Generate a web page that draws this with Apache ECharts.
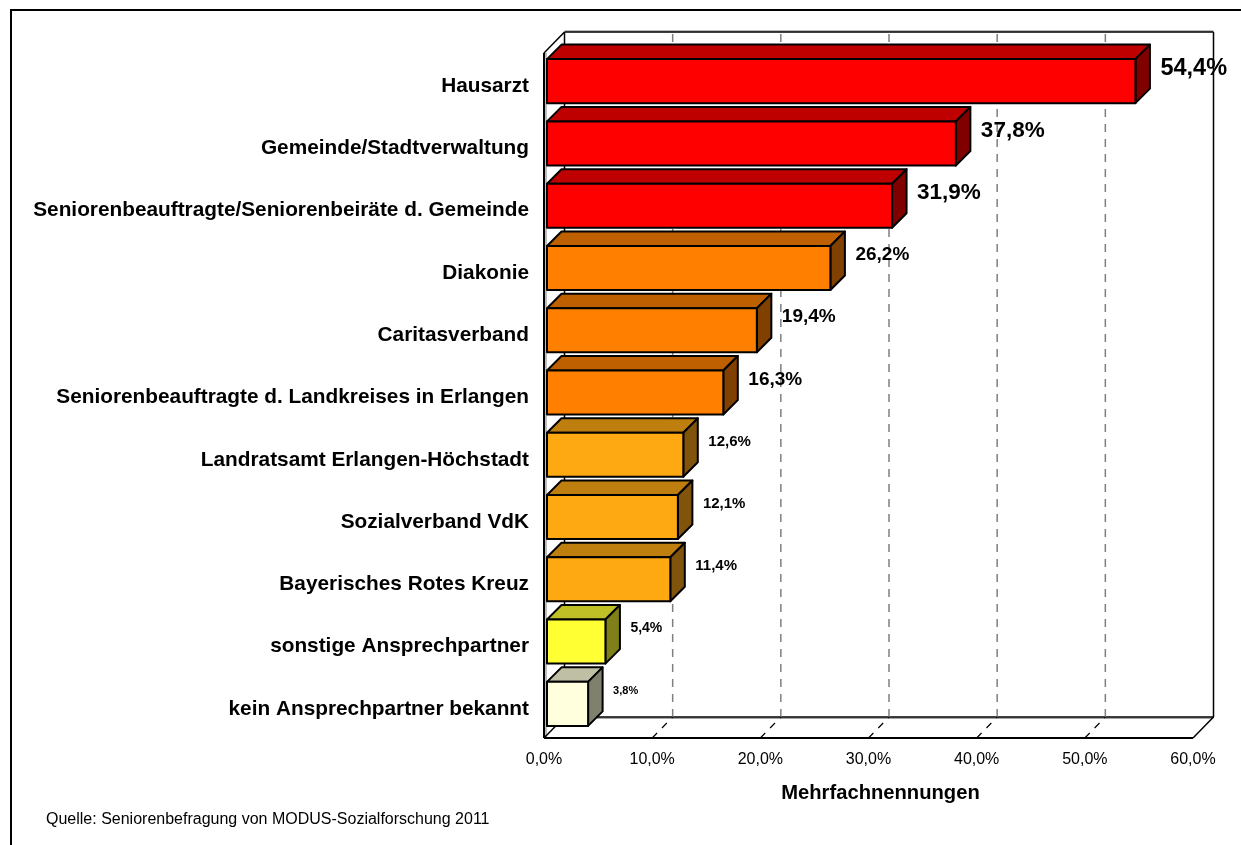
<!DOCTYPE html>
<html>
<head>
<meta charset="utf-8">
<title>Ansprechpartner</title>
<script src="https://cdn.jsdelivr.net/npm/echarts@6/dist/echarts.min.js"></script>
<style>
  html, body { margin: 0; padding: 0; background: #fff; }
  #chart { width: 1241px; height: 845px; }
</style>
</head>
<body>
<div id="chart"></div>
<script>
var categories = [
  'Hausarzt',
  'Gemeinde/Stadtverwaltung',
  'Seniorenbeauftragte/Seniorenbeiräte d. Gemeinde',
  'Diakonie',
  'Caritasverband',
  'Seniorenbeauftragte d. Landkreises in Erlangen',
  'Landratsamt Erlangen-Höchstadt',
  'Sozialverband VdK',
  'Bayerisches Rotes Kreuz',
  'sonstige Ansprechpartner',
  'kein Ansprechpartner bekannt'
]
var values = [54.4, 37.8, 31.9, 26.2, 19.4, 16.3, 12.6, 12.1, 11.4, 5.4, 3.8]
var gridTicks = [10, 20, 30, 40, 50]

// styling per bar
var frontColors = ['#ff0000', '#ff0000', '#ff0000', '#ff8000', '#ff8000', '#ff8000', '#ffa912', '#ffa912', '#ffa912', '#ffff33', '#ffffdd']
var topColors = ['#bf0000', '#bf0000', '#bf0000', '#bf6000', '#bf6000', '#bf6000', '#bf7f0e', '#bf7f0e', '#bf7f0e', '#bfbf26', '#bfbfa6']
var sideColors = ['#800000', '#800000', '#800000', '#804000', '#804000', '#804000', '#80540a', '#80540a', '#80540a', '#80801a', '#80806f']
var labelSizes = [23.5, 22.5, 22.5, 19, 19, 19, 15, 15, 15, 14, 11]

var FONT = '"Liberation Sans", Arial, sans-serif'
var WALL_DX = 20.5
var WALL_DY = -21
var BAR_SHIFT = 3
var BAR_DEPTH = 14.5
var BAR_RATIO = 0.707

function fmt(v, digits) {
  return v.toFixed(digits).replace('.', ',') + '%'
}

function line(x1, y1, x2, y2, style) {
  return { type: 'line', shape: { x1: x1, y1: y1, x2: x2, y2: y2 }, style: style }
}

function renderFrame(params) {
  var c = params.coordSys
  var l = c.x, r = c.x + c.width, t = c.y, b = c.y + c.height
  var black = { stroke: '#000', lineWidth: 1.5 }
  var gray = { stroke: '#a6a6a6', lineWidth: 1.5 }
  return {
    type: 'group',
    children: [
      line(l + 2, t, l + 2, b, gray),
      line(l + WALL_DX, b + WALL_DY + 1.2, r + WALL_DX, b + WALL_DY + 1.2, gray),
      line(l + WALL_DX, t + WALL_DY - 1, r + WALL_DX, t + WALL_DY - 1, gray),
      line(l, t, l, b, { stroke: '#000', lineWidth: 2 }),
      line(l, b, r, b, { stroke: '#000', lineWidth: 2 }),
      line(l, t, l + WALL_DX, t + WALL_DY, black),
      line(l, b, l + WALL_DX, b + WALL_DY, black),
      line(r, b, r + WALL_DX, b + WALL_DY, black),
      line(l + WALL_DX, t + WALL_DY, l + WALL_DX, b + WALL_DY, black),
      line(r + WALL_DX, t + WALL_DY, r + WALL_DX, b + WALL_DY, black),
      line(l + WALL_DX, t + WALL_DY, r + WALL_DX, t + WALL_DY, black),
      line(l + WALL_DX, b + WALL_DY, r + WALL_DX, b + WALL_DY, black)
    ]
  }
}

function renderGridline(params, api) {
  var c = params.coordSys
  var x = api.coord([api.value(0), 0])[0]
  var b = c.y + c.height
  return {
    type: 'group',
    children: [
      line(x + WALL_DX, b + WALL_DY, x + WALL_DX, c.y + WALL_DY, { stroke: '#7f7f7f', lineWidth: 1.5, lineDash: [8, 7] }),
      line(x, b, x + WALL_DX, b + WALL_DY, { stroke: '#000', lineWidth: 1.2, lineDash: [7, 7] })
    ]
  }
}

function renderBar(params, api) {
  var i = params.dataIndex
  var v = api.value(0)
  var end = api.coord([v, i])
  var start = api.coord([0, i])
  var h = api.size([0, 1])[1] * BAR_RATIO
  var x0 = start[0] + BAR_SHIFT
  var x1 = end[0] + BAR_SHIFT
  var y0 = end[1] - BAR_SHIFT - h / 2
  var y1 = y0 + h
  var d = BAR_DEPTH
  var edge = { stroke: '#000', lineWidth: 2, lineJoin: 'round' }
  function face(points, fill) {
    return { type: 'polygon', shape: { points: points }, style: Object.assign({ fill: fill }, edge) }
  }
  return {
    type: 'group',
    children: [
      face([[x0, y0], [x0 + d, y0 - d], [x1 + d, y0 - d], [x1, y0]], topColors[i]),
      face([[x1, y0], [x1 + d, y0 - d], [x1 + d, y1 - d], [x1, y1]], sideColors[i]),
      face([[x0, y0], [x1, y0], [x1, y1], [x0, y1]], frontColors[i]),
      {
        type: 'text',
        style: {
          x: x1 + 25,
          y: (y0 + y1) / 2 - 13,
          text: fmt(v, 1),
          fontFamily: FONT,
          fontWeight: 'bold',
          fontSize: labelSizes[i],
          fill: '#000',
          align: 'left',
          verticalAlign: 'middle'
        }
      }
    ]
  }
}

var chart = echarts.init(document.getElementById('chart'), null, { renderer: 'canvas' })

chart.setOption({
  animation: false,
  backgroundColor: '#fff',
  textStyle: { fontFamily: FONT },
  grid: { left: 544, right: 48, top: 53, height: 685, containLabel: false },
  title: {
    text: 'Quelle: Seniorenbefragung von MODUS-Sozialforschung 2011',
    left: 46,
    top: 812,
    padding: 0,
    textStyle: { fontFamily: FONT, fontSize: 16, fontWeight: 'normal', color: '#000' }
  },
  graphic: [
    { type: 'line', shape: { x1: 11, y1: 10, x2: 11, y2: 845 }, style: { stroke: '#000', lineWidth: 2 } },
    { type: 'line', shape: { x1: 10, y1: 10, x2: 1241, y2: 10 }, style: { stroke: '#000', lineWidth: 2 } }
  ],
  xAxis: {
    type: 'value',
    min: 0,
    max: 60,
    interval: 10,
    axisLine: { show: false },
    axisTick: { show: false },
    splitLine: { show: false },
    axisLabel: {
      margin: 14,
      fontFamily: FONT,
      fontSize: 16,
      color: '#000',
      formatter: function(v) { return fmt(v, 1) }
    },
    name: 'Mehrfachnennungen',
    nameLocation: 'middle',
    nameGap: 45,
    nameTextStyle: { fontFamily: FONT, fontWeight: 'bold', fontSize: 20.2, color: '#000', padding: [0, 0, 0, 24] }
  },
  yAxis: {
    type: 'category',
    inverse: true,
    data: categories,
    axisLine: { show: false },
    axisTick: { show: false },
    splitLine: { show: false },
    axisLabel: {
      margin: 15,
      fontFamily: FONT,
      fontWeight: 'bold',
      fontSize: 20.8,
      color: '#000',
      interval: 0,
      verticalAlign: 'top',
      lineHeight: 4
    }
  },
  series: [
    { type: 'custom', name: 'frame', clip: false, silent: true, z: 1, data: [0], renderItem: renderFrame },
    { type: 'custom', name: 'gridlines', clip: false, silent: true, z: 2, data: gridTicks, renderItem: renderGridline },
    { type: 'custom', name: 'Mehrfachnennungen', clip: false, z: 3, data: values, renderItem: renderBar }
  ]
})
</script>
</body>
</html>
